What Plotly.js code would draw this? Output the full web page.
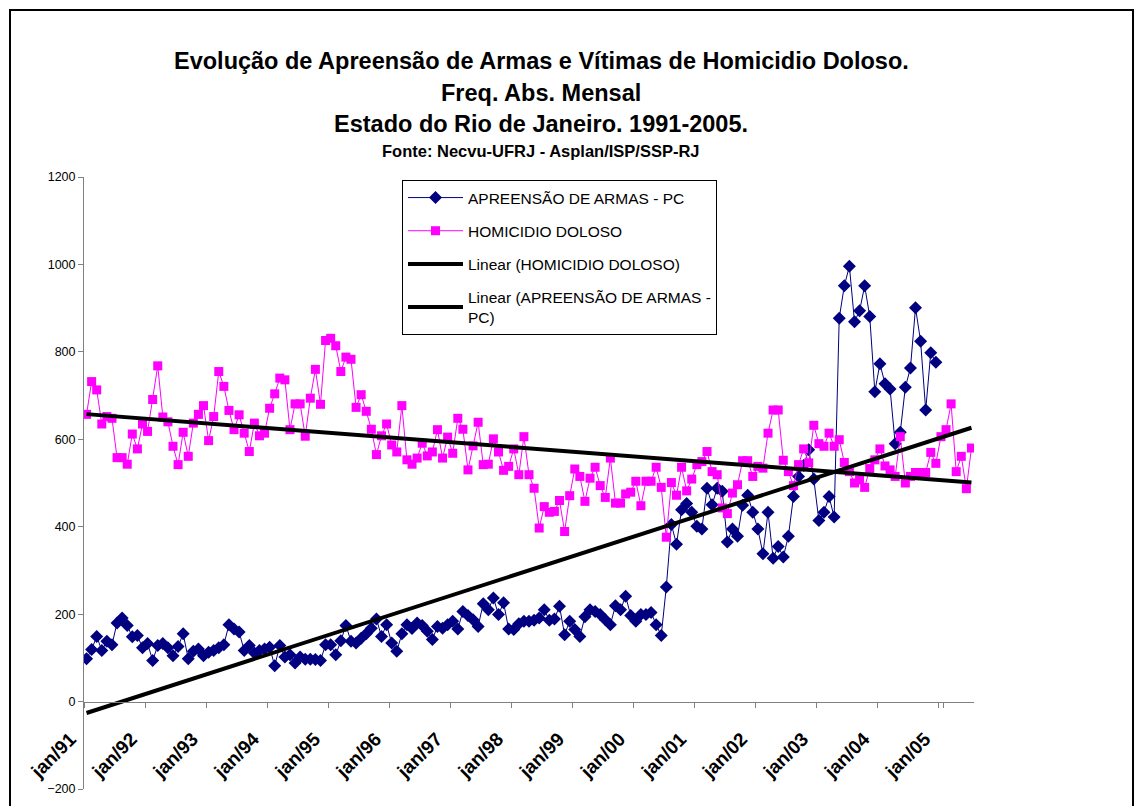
<!DOCTYPE html>
<html><head><meta charset="utf-8">
<script src="https://cdn.plot.ly/plotly-3.0.1.min.js"></script>
<style>
html,body{margin:0;padding:0;background:#fff;}
#chart{position:absolute;left:0;top:0;width:1141px;height:806px;}
#frame{position:absolute;left:9px;top:9px;width:1125px;height:810px;border:2px solid #000;box-sizing:border-box;pointer-events:none;}
</style>
</head><body>
<div id="chart"></div><div id="frame"></div>
<script>
const monthNames = ['jan','fev','mar','abr','mai','jun','jul','ago','set','out','nov','dez'];
const years = ['91','92','93','94','95','96','97','98','99','00','01','02','03','04','05'];
const lastMonthOf2005 = 7; // jan..jul/05
const categories = [];
years.forEach((y, yi) => {
  const n = (yi === years.length - 1) ? lastMonthOf2005 : 12;
  for (let m = 0; m < n; m++) categories.push(monthNames[m] + '/' + y);
});
const tickLabels = years.map(y => 'jan/' + y);

const apreensaoArmas = [
  98,119,149,117,138,130,180,191,174,148,151,123,
  133,94,128,133,123,105,126,155,98,115,120,105,
  113,117,123,130,176,166,159,117,128,111,117,120,
  124,82,128,102,107,88,102,97,97,96,94,130,
  130,107,139,174,138,134,145,155,168,189,149,176,
  134,115,155,176,167,180,174,161,142,172,168,176,
  184,166,206,197,187,172,224,210,237,199,226,166,
  165,178,184,184,186,191,210,186,189,218,153,184,
  165,149,194,210,206,199,187,176,219,210,241,197,
  184,199,199,204,176,151,262,405,360,439,453,433,
  401,395,488,450,488,481,365,395,378,449,472,433,
  395,338,433,328,355,331,378,469,515,540,576,509,
  414,433,469,422,877,951,996,869,894,951,881,709,
  773,727,715,590,616,719,763,901,824,667,798,776
];
const homicidioDoloso = [
  657,732,713,635,652,648,558,558,543,612,578,635,
  618,691,768,651,640,584,542,616,561,637,657,677,
  597,652,755,721,666,622,656,614,572,637,608,614,
  671,704,740,736,622,681,681,607,694,760,680,826,
  831,814,755,788,783,673,702,664,623,565,608,635,
  587,571,677,553,543,557,591,562,571,622,557,605,
  568,648,623,530,585,639,542,543,601,571,529,538,
  578,519,606,519,488,397,446,433,435,460,389,471,
  532,515,458,511,536,494,467,557,454,454,475,479,
  504,448,504,504,536,490,376,501,472,536,482,509,
  542,549,572,526,519,443,430,477,496,551,551,515,
  538,534,614,667,667,552,526,494,542,578,546,632,
  590,584,614,584,599,547,526,500,507,490,533,553,
  578,539,530,515,606,500,515,524,524,524,570,545,
  606,622,681,526,561,487,580
];

// least-squares linear trend (as Excel's "Linear" trendline), evaluated over all categories
function linearTrend(values, nOut) {
  const n = values.length;
  let sx = 0, sy = 0, sxx = 0, sxy = 0;
  for (let i = 0; i < n; i++) { sx += i; sy += values[i]; sxx += i * i; sxy += i * values[i]; }
  const b = (n * sxy - sx * sy) / (n * sxx - sx * sx);
  const a = (sy - b * sx) / n;
  const out = [];
  for (let i = 0; i < nOut; i++) out.push(a + b * i);
  return out;
}

const FONT = 'Liberation Sans, Arial, sans-serif';
const N = categories.length;

const traces = [
  {
    x: categories.slice(0, apreensaoArmas.length), y: apreensaoArmas,
    name: 'APREENSÃO DE ARMAS - PC', type: 'scatter', mode: 'lines+markers',
    line: {color: '#000080', width: 1},
    marker: {symbol: 'diamond', size: 10, color: '#000080'},
    legendgroup: 'g1'
  },
  {
    x: categories.slice(0, homicidioDoloso.length), y: homicidioDoloso,
    name: 'HOMICIDIO DOLOSO', type: 'scatter', mode: 'lines+markers',
    line: {color: '#FF00FF', width: 1},
    marker: {symbol: 'square', size: 9, color: '#FF00FF'},
    legendgroup: 'g2'
  },
  {
    x: categories, y: linearTrend(homicidioDoloso, N),
    name: 'Linear (HOMICIDIO DOLOSO)', type: 'scatter', mode: 'lines',
    line: {color: '#000', width: 4}, legendgroup: 'g3'
  },
  {
    x: categories, y: linearTrend(apreensaoArmas, N),
    name: 'Linear (APREENSÃO DE ARMAS -<br>PC)', type: 'scatter', mode: 'lines',
    line: {color: '#000', width: 4}, legendgroup: 'g4'
  }
];

const plotTop = 177, plotBottom = 789, plotH = plotBottom - plotTop;
const plotLeft = 84, plotW = 890;
function py(px) { return (plotBottom - px) / plotH; }
function pxX(px) { return (px - plotLeft) / plotW; }

const titleLines = [
  {text: 'Evolução de Apreensão de Armas e Vítimas de Homicidio Doloso.', size: 23.5, ypx: 61},
  {text: 'Freq. Abs. Mensal', size: 23.5, ypx: 93},
  {text: 'Estado do Rio de Janeiro. 1991-2005.', size: 23.5, ypx: 124},
  {text: 'Fonte: Necvu-UFRJ - Asplan/ISP/SSP-RJ', size: 16.5, ypx: 151}
];

const layout = {
  width: 1141, height: 806,
  margin: {l: plotLeft, r: 1141 - plotLeft - plotW, t: plotTop, b: 806 - plotBottom, pad: 0},
  paper_bgcolor: '#fff', plot_bgcolor: '#fff',
  font: {family: FONT, color: '#000'},
  showlegend: true,
  legend: {
    x: pxX(402), y: py(180), xanchor: 'left', yanchor: 'top',
    bgcolor: '#fff', bordercolor: '#000', borderwidth: 1,
    font: {family: FONT, size: 15.5, color: '#000'},
    itemwidth: 55, tracegroupgap: 10, traceorder: 'grouped'
  },
  xaxis: {
    type: 'category', categoryorder: 'array', categoryarray: categories,
    range: [-0.5, N - 0.5],
    anchor: 'free', position: 200 / 1400,
    tickson: 'boundaries',
    tickvals: tickLabels, ticktext: tickLabels,
    tickangle: -45, ticks: 'outside', ticklen: 5, tickcolor: '#808080',
    ticklabelshift: -16, ticklabelstandoff: 18,
    showline: true, linecolor: '#808080', linewidth: 1,
    showgrid: false, zeroline: false,
    tickfont: {family: FONT, size: 19, color: '#000', weight: 'bold'}
  },
  yaxis: {
    range: [-200, 1200], tickvals: [-200,0,200,400,600,800,1000,1200],
    ticks: 'outside', ticklen: 5, tickcolor: '#808080',
    showline: true, linecolor: '#808080', linewidth: 1,
    showgrid: false, zeroline: false,
    tickfont: {family: FONT, size: 12.5, color: '#000'}
  },
  yaxis2: {
    overlaying: 'y', range: [-200, 1200], tickvals: [200,400,600,800,1000],
    showticklabels: false, ticks: '', showline: false, zeroline: false,
    showgrid: true, gridcolor: '#3a3a3a', gridwidth: 1
  },
  annotations: titleLines.map(t => ({
    text: '<b>' + t.text + '</b>', xref: 'paper', yref: 'paper',
    x: pxX(541), y: py(t.ypx), xanchor: 'center', yanchor: 'middle',
    showarrow: false, font: {family: FONT, size: t.size, color: '#000'}
  }))
};

Plotly.newPlot('chart', traces, layout, {displayModeBar: false, staticPlot: true});
</script>
</body></html>
